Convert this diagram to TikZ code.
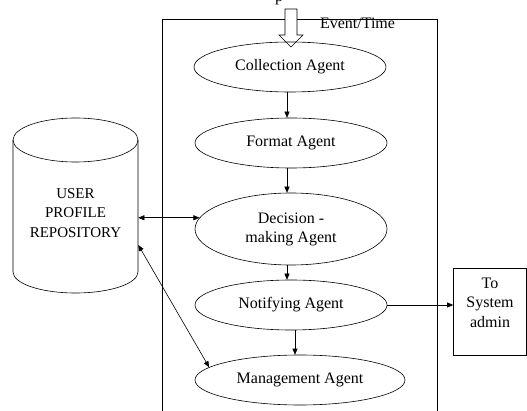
\documentclass[tikz,border=0pt]{standalone}
\usepackage{fontspec}
\setmainfont{Liberation Serif}
\usetikzlibrary{shapes.geometric,arrows.meta}
\tikzset{
  agent/.style={
    draw,
    ellipse,
    inner sep=0pt,
    minimum width=192pt,
    minimum height=50pt,
    font=\fontsize{16}{19}\selectfont
  },
  flow/.style={-{Triangle[length=6pt,width=5pt]}},
  both/.style={{Triangle[length=6pt,width=5pt]}-{Triangle[length=6pt,width=5pt]}},
  plain/.style={font=\fontsize{16}{19.5}\selectfont, align=center}
}
\begin{document}
\begin{tikzpicture}[x=1pt, y=-1pt, line width=0.6pt]
  \useasboundingbox (0,0) rectangle (527,411);
  % frame round the agents
  \draw (162,420) -- (162,19) -- (437,19) -- (437,420);
  \node[plain, anchor=base] (cut) at (279,2) {p};
  \node[plain, anchor=base] (event) at (357.5,28.5) {Event/Time};
  \draw[fill=white] (285,9) -- (285,35) -- (279,35) -- (291,47)
    -- (303,35) -- (297,35) -- (297,9) -- cycle;

  \node[agent] (collect) at (290,67) {Collection Agent};
  \node[agent] (format) at (291,143) {Format Agent};
  \node[agent, minimum height=72pt, align=center] (decide) at (291,229) {Decision -\\making Agent};
  \node[agent] (notify) at (291,305) {Notifying Agent};
  \node[agent, minimum width=210pt] (manage) at (300,380) {Management Agent};

  % repository
  \draw (13,140) -- (13,272) arc[start angle=180, end angle=0, x radius=62.5, y radius=21] -- (138,140);
  \draw (75.5,140) ellipse[x radius=62.5, y radius=22];
  \node[plain, font=\fontsize{15}{19.5}\selectfont, minimum width=125pt, minimum height=140pt] (repo)
    at (75.5,213) {USER\\PROFILE\\REPOSITORY};

  \node[draw, minimum width=73pt, minimum height=87pt,
    label={[plain, yshift=9pt]center:To\\System\\admin}] (admin) at (490,311.5) {};

  \draw[flow] ([xshift=-3pt]collect.south) -- ([xshift=-4pt]format.north);
  \draw[flow] ([xshift=-4pt]format.south) -- ([xshift=-4pt]decide.north);
  \draw[flow] ([xshift=-4pt]decide.south) -- ([xshift=-4pt]notify.north);
  \draw[flow] ([xshift=4pt]notify.south) -- ([xshift=-5pt]manage.north);
  \draw[flow] (notify.east) -- (notify.east -| admin.west);
  \draw[both] (repo.east |- decide.173) -- (decide.173);
  \draw[both] (repo.-27) -- (manage.172);
\end{tikzpicture}
\end{document}
